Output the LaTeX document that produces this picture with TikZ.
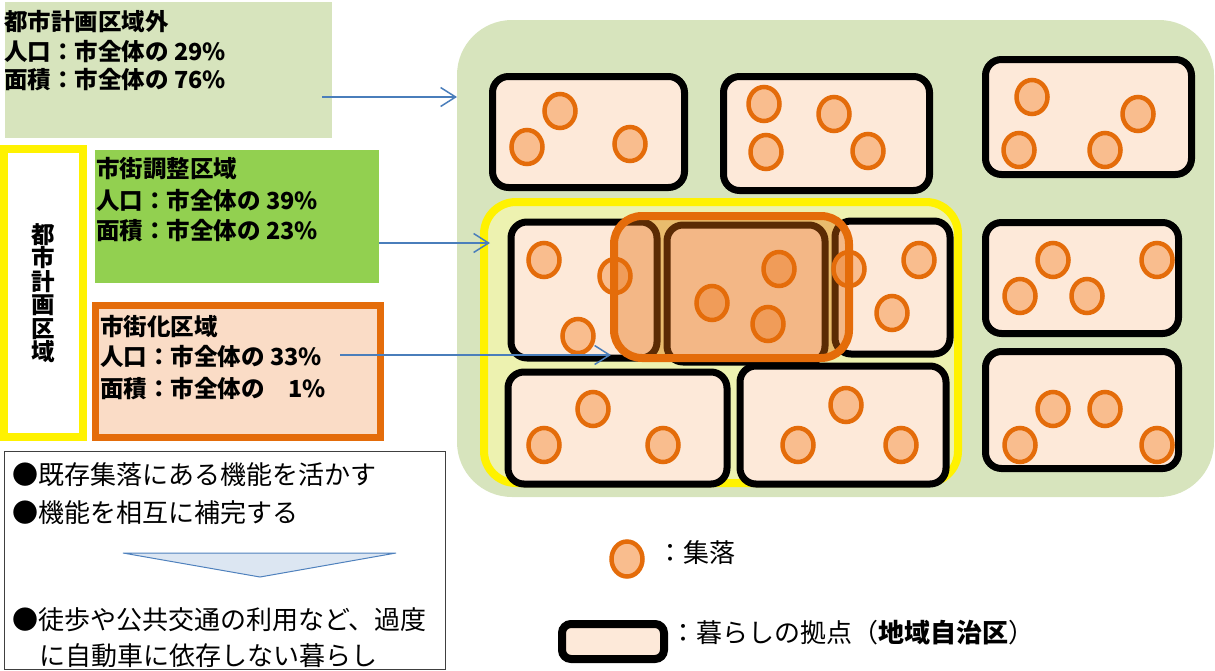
\documentclass[tikz,border=0pt]{standalone}
\usepackage{fontspec}
\newfontfamily\jp{Noto Sans CJK JP}
\usetikzlibrary{arrows.meta}
\definecolor{lgreen}{HTML}{D7E4BD}
\definecolor{mgreen}{HTML}{92D050}
\definecolor{orgc}{HTML}{E46C0A}
\definecolor{boxfill}{HTML}{FDE9D9}
\definecolor{circfill}{HTML}{F9BD8E}
\definecolor{ofill}{HTML}{FADCC6}
\definecolor{bluec}{HTML}{4A7EBB}
\definecolor{yzfill}{HTML}{EDF2B0}
\definecolor{trifill}{HTML}{DCE6F2}
\definecolor{tridraw}{HTML}{4F81BD}
\begin{document}
\begin{tikzpicture}[x=1pt,y=-1pt,
  base/.style={draw=black, line width=7pt, fill=boxfill, rounded corners=16pt},
  shuraku/.style={draw=orgc, line width=4.5pt, fill=circfill},
  lbl/.style={anchor=west, inner sep=0pt, font=\jp\bfseries\fontsize{23.5}{28}\selectfont},
  txt/.style={anchor=west, inner sep=0pt, font=\jp\fontsize{26}{30}\selectfont},
  arr/.style={draw=bluec, line width=1.5pt, -{Straight Barb[length=15pt,width=19pt]}},
]
\useasboundingbox (0,0) rectangle (1215,670);

% ---- left side boxes
\fill[lgreen] (5,2) rectangle (332,138);
\node[lbl] (t1a) at (4,22) {都市計画区域外};
\node[lbl] (t1b) at (4,52) {人口：市全体の 29\%};
\node[lbl] (t1c) at (4,80) {面積：市全体の 76\%};

\draw[yellow, line width=8pt, fill=white] (4,149) rectangle (83,437);
\node[inner sep=0pt, align=center, font=\jp\bfseries\fontsize{23.5}{23.5}\selectfont] (vt) at (43.5,293) {都\\市\\計\\画\\区\\域};

\fill[mgreen] (95,150) rectangle (379,283);
\node[lbl] (t2a) at (96,169) {市街調整区域};
\node[lbl] (t2b) at (96,201) {人口：市全体の 39\%};
\node[lbl] (t2c) at (96,231) {面積：市全体の 23\%};

\draw[orgc, line width=7pt, fill=ofill] (95,305) rectangle (380,437);
\node[lbl] (t3a) at (100,327) {市街化区域};
\node[lbl] (t3b) at (100,357) {人口：市全体の 33\%};
\node[lbl] (t3c) at (100,389) {面積：市全体の　1\%};

% ---- bottom-left text box
\draw[black!75, line width=1pt] (4,451) rectangle (445,669);
\node[txt] (b1) at (12,475) {●既存集落にある機能を活かす};
\node[txt] (b2) at (12,513) {●機能を相互に補完する};
\draw[tridraw, line width=1pt, fill=trifill] (123,553) -- (396,553) -- (260,577) -- cycle;
\node[txt] (b3) at (12,620) {●徒歩や公共交通の利用など、過度};
\node[txt] (b4) at (39,656) {に自動車に依存しない暮らし};

% ---- map
\fill[lgreen, rounded corners=55pt] (457,20) rectangle (1214,497);
\draw[yellow, line width=8pt, fill=yzfill, rounded corners=32pt] (484,202) rectangle (958,483);

\draw[base] (492.5,76.5) rectangle (684.5,187.5);
\draw[base] (723.5,76.5) rectangle (929.5,190.5);
\draw[base] (985.5,59.5) rectangle (1191.5,174.5);
\draw[base] (985.5,222.5) rectangle (1178.5,333.5);
\draw[base] (985.5,351.5) rectangle (1178.5,468.5);
\draw[base] (508,372) rectangle (727,484);
\draw[base] (740,366) rectangle (946,484);
\draw[base] (511,222) rectangle (657,358);
\draw[base] (667,225) rectangle (825,362);
\draw[base] (835,221) rectangle (950,354);

\foreach \p in {(560,111),(527,147),(630,144),
                (764,104),(834,114),(766,152),(868,151),
                (1032,97),(1138,114),(1019,150),(1105,150),
                (1053,260),(1157,260),(1020,296),(1087,296),
                (1053,409),(1105,409),(1020,445),(1157,445),
                (544,260),(615,276),(578,336),
                (712,303),(779,269),(768,324),
                (849,269),(919,260),(892,313),
                (593,409),(544,445),(663,445),
                (846,405),(798,445),(901,445)}
  \draw[shuraku] \p ellipse [x radius=15.5pt, y radius=17pt];

\draw[orgc, line width=8pt, fill=orgc, fill opacity=0.4, rounded corners=28pt] (614,216) rectangle (849,358);

% ---- arrows
\coordinate (a1s) at (322,97);  \coordinate (a1e) at (457,97);
\coordinate (a2s) at (379,243); \coordinate (a2e) at (490,243);
\coordinate (a3s) at (340,355); \coordinate (a3e) at (611,355);
\draw[arr] (a1s) -- (a1e);
\draw[arr] (a2s) -- (a2e);
\draw[arr] (a3s) -- (a3e);

% ---- legend
\draw[shuraku] (627,559) ellipse [x radius=15.5pt, y radius=17.5pt];
\node[txt] (l1) at (657,553) {：集落};
\draw[base, line width=8pt, rounded corners=9pt] (562,624) rectangle (664,659);
\node[txt] (l2) at (670,633) {：暮らしの拠点（{\bfseries 地域自治区}）};
\end{tikzpicture}
\end{document}
